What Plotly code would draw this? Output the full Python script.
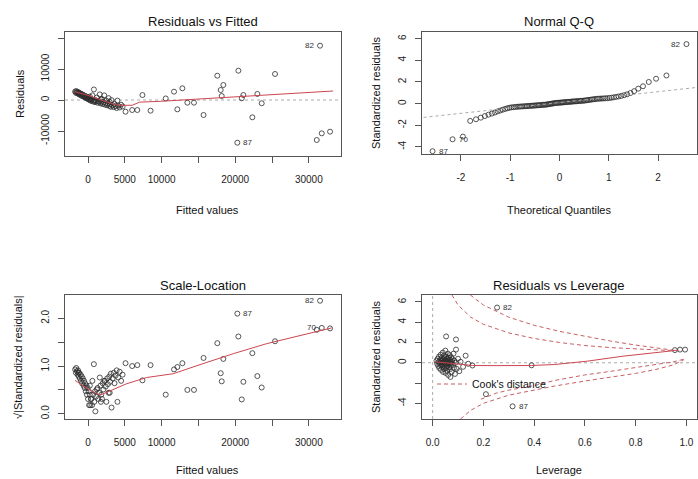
import plotly.graph_objects as go

W, H = 698, 479
FONT = "Liberation Sans, Arial, sans-serif"
PT_COL = "rgba(45,45,45,0.8)"
RED = "rgb(205,70,80)"
COOK = "rgb(200,95,100)"
GRAY = "rgb(170,170,170)"

# ---------------- Residuals vs Fitted / Scale-Location (shared fitted values) -------------
fitted = [-1750, -1650, -1600, -1500, -1400, -1350, -1300, -1250, -1200, -1100, -1000, -950,
          -850, -800, -700, -600, -550, -450, -400, -300, -200, -150, -50, 0, 100, 150, 250,
          250, 300, 400, 450, 550, 600, 700, 800, 850, 950, 1000, 1100, 1200, 1300, 1400, 1500,
          1600, 1700, 1750, 1800, 1900, 2000, 2100, 2200, 2300, 2400, 2500, 2600, 2700, 2800,
          2900, 2950, 3000, 3100, 3200, 3350, 3500, 3600, 3750, 3900, 4000, 4100, 4300, 4500,
          4700, 5100, 6000, 6700, 7400, 8500, 10560, 11690, 12140, 12820, 13500, 14400, 15700,
          17570, 18030, 18390, 18170, 20430, 20290, 20890, 21110, 22330, 23010, 23600, 25410,
          31530, 31080, 31760, 32890]
residuals = [2700, 2300, 2900, 2500, 2100, 2600, 2300, 1900, 2300, 1700, 2100, 1500,
             1900, 1300, 1700, 1100, 1500, 900, 1300, 700, 1100, 500, 900, 300, 700, 100, 500,
             1100, -100, 300, -300, 100, 1500, -500, 3400, -200, -700, 0, -400, 800, -900, -300,
             -600, 1800, -1100, 200, -500, 300, -1300, -800, 1500, -1500, -1000, -200, -1700,
             -1200, 600, -1900, -600, -1400, -2200, -50, -1700, -2300, -1300, -2000, -2600, -200,
             -1800, -2400, -1500, -2100, -3770, -3230, -3230, 1600, -3440, 500, 2680, -3010, 3770,
             -870, -870, -4840, 7840, 3230, 4840, 1290, 9450, -13770, 550, 1610, -5580, 1940,
             -1060, 8390, 17520, -12900, -10750, -10220]
sqrt_std_resid = [0.93, 0.86, 0.96, 0.89, 0.82, 0.91, 0.86, 0.78, 0.86, 0.74, 0.82, 0.69,
                  0.78, 0.64, 0.74, 0.59, 0.69, 0.54, 0.64, 0.47, 0.59, 0.40, 0.54, 0.31, 0.47,
                  0.18, 0.40, 0.59, 0.18, 0.31, 0.31, 0.18, 0.69, 0.40, 1.04, 0.25, 0.47, 0.05,
                  0.36, 0.51, 0.54, 0.31, 0.44, 0.76, 0.59, 0.25, 0.40, 0.31, 0.64, 0.51, 0.69,
                  0.69, 0.57, 0.25, 0.74, 0.62, 0.44, 0.78, 0.44, 0.67, 0.84, 0.13, 0.74, 0.86,
                  0.64, 0.80, 0.91, 0.25, 0.76, 0.88, 0.69, 0.82, 1.06, 1.00, 1.02, 0.70, 1.02,
                  0.40, 0.93, 0.98, 1.06, 0.50, 0.50, 1.17, 1.48, 0.85, 1.15, 0.68, 1.62, 2.10,
                  0.30, 0.67, 1.27, 0.79, 0.55, 1.52, 2.37, 1.76, 1.80, 1.79]

fit_lowess_x = [-1770, 0, 2000, 4000, 6000, 7000, 10000, 15000, 20000, 25000, 33300]
fit_lowess_y = [2680, 1500, -200, -1700, -1700, -700, -400, 300, 1000, 1900, 2900]
sl_lowess_x = [-1770, 0, 1630, 3000, 5260, 7980, 11590, 15220, 19750, 24280, 28810, 33120]
sl_lowess_y = [0.70, 0.52, 0.39, 0.48, 0.63, 0.76, 0.84, 1.03, 1.26, 1.47, 1.64, 1.80]

# ---------------- Normal Q-Q ----------------
qq_theoretical = [-2.576, -2.170, -1.960, -1.812, -1.695, -1.598, -1.514, -1.440, -1.372, -1.311,
                  -1.254, -1.200, -1.150, -1.103, -1.058, -1.015, -0.974, -0.935, -0.896, -0.860,
                  -0.824, -0.789, -0.755, -0.722, -0.690, -0.659, -0.628, -0.598, -0.568, -0.539,
                  -0.510, -0.482, -0.454, -0.426, -0.399, -0.372, -0.345, -0.319, -0.292, -0.266,
                  -0.240, -0.215, -0.189, -0.164, -0.138, -0.113, -0.088, -0.063, -0.038, -0.013,
                  0.013, 0.038, 0.063, 0.088, 0.113, 0.138, 0.164, 0.189, 0.215, 0.240,
                  0.266, 0.292, 0.319, 0.345, 0.372, 0.399, 0.426, 0.454, 0.482, 0.510,
                  0.539, 0.568, 0.598, 0.628, 0.659, 0.690, 0.722, 0.755, 0.789, 0.824,
                  0.860, 0.896, 0.935, 0.974, 1.015, 1.058, 1.103, 1.150, 1.200, 1.254,
                  1.311, 1.372, 1.440, 1.514, 1.598, 1.695, 1.812, 1.960, 2.170, 2.576]
qq_sample = [-4.40, -3.30, -3.05, -1.60, -1.45, -1.30, -1.15, -1.02, -0.92, -0.82,
             -0.72, -0.64, -0.56, -0.49, -0.43, -0.38, -0.35, -0.33, -0.31, -0.29,
             -0.28, -0.27, -0.26, -0.25, -0.24, -0.23, -0.22, -0.21, -0.20, -0.19,
             -0.18, -0.17, -0.16, -0.15, -0.14, -0.13, -0.12, -0.11, -0.10, -0.09,
             -0.07, -0.05, -0.03, -0.01, 0.01, 0.03, 0.05, 0.06, 0.07, 0.08,
             0.09, 0.10, 0.11, 0.12, 0.13, 0.14, 0.15, 0.16, 0.17, 0.18,
             0.19, 0.20, 0.21, 0.22, 0.23, 0.24, 0.25, 0.26, 0.27, 0.28,
             0.30, 0.32, 0.34, 0.36, 0.38, 0.40, 0.42, 0.44, 0.45, 0.46,
             0.47, 0.48, 0.49, 0.50, 0.52, 0.55, 0.58, 0.62, 0.66, 0.71,
             0.78, 0.86, 0.98, 1.15, 1.38, 1.60, 2.00, 2.30, 2.60, 5.50]
qq_line_x = [-3.0, 3.0]
qq_line_y = [-1.40, 1.60]

# ---------------- Residuals vs Leverage ----------------
leverage = [0.015, 0.018, 0.020, 0.022, 0.024, 0.025, 0.026, 0.028, 0.030, 0.030, 0.032, 0.033,
            0.034, 0.035, 0.036, 0.037, 0.038, 0.039, 0.040, 0.040, 0.041, 0.042, 0.043, 0.044,
            0.045, 0.045, 0.046, 0.047, 0.048, 0.049, 0.050, 0.050, 0.051, 0.052, 0.053, 0.053,
            0.054, 0.055, 0.056, 0.057, 0.058, 0.059, 0.060, 0.060, 0.061, 0.062, 0.063, 0.064,
            0.065, 0.066, 0.067, 0.068, 0.069, 0.070, 0.070, 0.071, 0.072, 0.073, 0.075, 0.076,
            0.078, 0.080, 0.082, 0.084, 0.086, 0.088, 0.090, 0.092, 0.092, 0.095, 0.100, 0.105,
            0.110, 0.120, 0.130, 0.140, 0.157, 0.210, 0.254, 0.315, 0.390, 0.955, 0.975, 0.995]
lev_std_resid = [0.20, -0.10, 0.40, -0.30, 0.10, 0.60, -0.50, 0.00, 0.30, -0.20, 0.80, -0.70,
                 0.15, -0.05, 0.50, -0.40, 0.25, -0.15, 1.00, 0.05, -0.90, 0.35, -0.25, 0.10,
                 0.70, -0.60, 0.00, 0.45, -0.35, 0.20, -0.10, 1.20, -1.00, 0.30, -0.20, 2.60,
                 0.60, -0.50, 0.10, -0.80, 0.40, -0.30, 0.00, 0.90, -1.20, 0.20, -0.15, 0.50,
                 -0.45, 0.05, 0.75, -0.65, 0.30, -0.05, -1.40, 0.15, -0.30, 0.55, -0.90, 0.10,
                 0.35, -0.20, 0.90, -0.50, 0.20, -1.10, 0.00, 2.30, 1.30, -0.60, 0.40, -0.83,
                 0.10, -0.40, 0.70, -0.10, -0.27, -3.10, 5.45, -4.30, -0.25, 1.25, 1.30, 1.30]
lev_lowess_x = [0.01, 0.05, 0.10, 0.157, 0.25, 0.39, 0.48, 0.61, 0.75, 0.88, 0.97]
lev_lowess_y = [0.10, 0.00, -0.15, -0.27, -0.28, -0.27, -0.17, 0.16, 0.65, 1.00, 1.25]

cook1_up_h = [0.148, 0.20, 0.30, 0.40, 0.50, 0.60, 0.70, 0.80, 0.90, 0.96]
cook1_up_r = [6.70, 5.70, 4.50, 3.70, 3.10, 2.60, 2.15, 1.75, 1.40, 1.20]
cook05_up_h = [0.076, 0.10, 0.15, 0.20, 0.30, 0.40, 0.50, 0.60, 0.70, 0.80, 0.90, 0.96]
cook05_up_r = [6.70, 5.70, 4.50, 3.80, 2.95, 2.40, 2.00, 1.70, 1.50, 1.35, 1.25, 1.20]
cook1_lo_h = [0.11, 0.15, 0.20, 0.30, 0.40, 0.48, 0.60, 0.70, 0.80, 0.88, 0.95, 0.99]
cook1_lo_r = [-5.55, -4.70, -4.00, -3.20, -2.70, -2.30, -1.80, -1.45, -1.05, -0.66, -0.20, 0.30]
cook05_lo_h = [0.19, 0.25, 0.30, 0.40, 0.48, 0.60, 0.70, 0.80, 0.88, 0.95, 0.99]
cook05_lo_r = [-3.60, -3.00, -2.70, -2.25, -1.75, -1.20, -0.85, -0.50, -0.17, 0.10, 0.35]

# ---------------- axis ticks ----------------
fit_ticks = [0, 5000, 10000, 15000, 20000, 25000, 30000]
fit_ticktext = ["0", "5000", "10000", "", "20000", "", "30000"]
res_ticks = [-10000, 0, 10000, 20000]
res_ticktext = ["-10000", "0", "10000", ""]
qq_xticks = [-2, -1, 0, 1, 2]
qq_yticks = [-4, -2, 0, 2, 4, 6]
sl_ticks = [0.0, 0.5, 1.0, 1.5, 2.0]
sl_ticktext = ["0.0", "", "1.0", "", "2.0"]
lev_xticks = [0.0, 0.2, 0.4, 0.6, 0.8, 1.0]
lev_xticktext = ["0.0", "0.2", "0.4", "0.6", "0.8", "1.0"]
lev_yticks = [-4, -2, 0, 2, 4, 6]
lev_yticktext = ["-4", "", "0", "2", "4", "6"]


def px(x):
    return x / W


def py(y):
    return 1 - y / H


fig = go.Figure()


def pts(x, y, xa, ya):
    fig.add_trace(go.Scatter(x=x, y=y, mode="markers", xaxis=xa, yaxis=ya, showlegend=False,
                             marker=dict(symbol="circle-open", size=5, color=PT_COL,
                                         line=dict(width=1)), hoverinfo="skip"))


def line(x, y, xa, ya, color, dash="solid", width=1, name=None, show=False):
    fig.add_trace(go.Scatter(x=x, y=y, mode="lines", xaxis=xa, yaxis=ya, showlegend=show,
                             name=name, legendgroup="cook",
                             line=dict(color=color, width=width, dash=dash), hoverinfo="skip"))


# Panel 1
pts(fitted, residuals, "x", "y")
line(fit_lowess_x, fit_lowess_y, "x", "y", RED)
# Panel 2
pts(qq_theoretical, qq_sample, "x2", "y2")
line(qq_line_x, qq_line_y, "x2", "y2", GRAY, dash="dot")
# Panel 3
pts(fitted, sqrt_std_resid, "x3", "y3")
line(sl_lowess_x, sl_lowess_y, "x3", "y3", RED)
# Panel 4
pts(leverage, lev_std_resid, "x4", "y4")
line(lev_lowess_x, lev_lowess_y, "x4", "y4", RED)
line(cook1_up_h, cook1_up_r, "x4", "y4", COOK, dash="4px,3px", name="Cook's distance", show=True)
line(cook05_up_h, cook05_up_r, "x4", "y4", COOK, dash="4px,3px")
line(cook1_lo_h, cook1_lo_r, "x4", "y4", COOK, dash="4px,3px")
line(cook05_lo_h, cook05_lo_r, "x4", "y4", COOK, dash="4px,3px")


def axis(domain, rng, tickvals, ticktext, anchor, vertical=False):
    d = dict(domain=domain, range=rng, tickvals=tickvals, ticktext=ticktext, anchor=anchor,
             showline=True, mirror=True, linecolor="#555", linewidth=1,
             ticks="outside", ticklen=6, tickcolor="#555", tickwidth=1,
             showgrid=False, zeroline=False,
             tickfont=dict(family=FONT, size=10, color="#222"))
    if vertical:
        d["tickangle"] = -90
        d["ticklabelstandoff"] = 5
    else:
        d["ticklabelstandoff"] = 8
    return d


XL = [px(65), px(341)]
XR = [px(422), px(697)]
YT1 = [py(156), py(32)]
YT2 = [py(154), py(32)]
YB = [py(419), py(295)]

fig.update_layout(
    xaxis=axis(XL, [-3125, 34375], fit_ticks, fit_ticktext, "y"),
    yaxis=axis(YT1, [-18065, 21935], res_ticks, res_ticktext, "x", True),
    xaxis2=axis(XR, [-2.79, 2.79], qq_xticks, [str(v) for v in qq_xticks], "y2"),
    yaxis2=axis(YT2, [-4.66, 6.62], qq_yticks, [str(v) for v in qq_yticks], "x2", True),
    xaxis3=axis(XL, [-3125, 34375], fit_ticks, fit_ticktext, "y3"),
    yaxis3=axis(YB, [-0.11, 2.49], sl_ticks, sl_ticktext, "x3", True),
    xaxis4=axis(XR, [-0.042, 1.042], lev_xticks, lev_xticktext, "y4"),
    yaxis4=axis(YB, [-5.55, 6.69], lev_yticks, lev_yticktext, "x4", True),
)

# reference dotted lines (h = 0 in panel 1 and 4, v = 0 in panel 4)
ZERO = 0
for xr, yr in [("x", "y"), ("x4", "y4")]:
    fig.add_shape(type="line", xref=f"{xr} domain", yref=yr, x0=0, x1=1, y0=ZERO, y1=ZERO,
                  line=dict(color=GRAY, width=1, dash="dot"), layer="below")
fig.add_shape(type="line", xref="x4", yref="y4 domain", x0=ZERO, x1=ZERO, y0=0, y1=1,
              line=dict(color=GRAY, width=1, dash="dot"), layer="below")

ann = []


def text(x, y, s, size, angle=0, xanchor="center"):
    ann.append(dict(x=px(x), y=py(y), xref="paper", yref="paper", text=s, showarrow=False,
                    textangle=angle, xanchor=xanchor, yanchor="middle",
                    font=dict(family=FONT, size=size, color="#111")))


# panel titles
text(203, 22, "Residuals vs Fitted", 13)
text(559, 22, "Normal Q-Q", 13)
text(203, 285, "Scale-Location", 13)
text(559, 285, "Residuals vs Leverage", 13)
# axis titles
text(207, 210, "Fitted values", 11)
text(559, 210, "Theoretical Quantiles", 11)
text(207, 470, "Fitted values", 11)
text(559, 470, "Leverage", 11)
text(20, 94, "Residuals", 11, -90)
text(376, 93, "Standardized residuals", 11, -90)
text(18, 357, "√|Standardized residuals|", 11, -90)
text(376, 357, "Standardized residuals", 11, -90)


def idlabel(x, y, s, xa, ya, side):
    ann.append(dict(x=x, y=y, xref=xa, yref=ya, text=s, showarrow=False,
                    xanchor="right" if side == "l" else "left",
                    xshift=-4 if side == "l" else 4, yanchor="middle",
                    font=dict(family=FONT, size=8, color="#333")))


idlabel(31530, 17520, "82", "x", "y", "l")
idlabel(20290, -13770, "87", "x", "y", "r")
idlabel(2.576, 5.50, "82", "x2", "y2", "l")
idlabel(-2.576, -4.40, "87", "x2", "y2", "r")
idlabel(-2.170, -3.30, "70", "x2", "y2", "r")
idlabel(31530, 2.37, "82", "x3", "y3", "l")
idlabel(20290, 2.10, "87", "x3", "y3", "r")
idlabel(31760, 1.80, "70", "x3", "y3", "l")
idlabel(0.254, 5.45, "82", "x4", "y4", "r")
idlabel(0.315, -4.30, "87", "x4", "y4", "r")

fig.update_layout(
    annotations=ann,
    width=W, height=H, autosize=False,
    margin=dict(l=0, r=0, t=0, b=0),
    paper_bgcolor="white", plot_bgcolor="white",
    showlegend=True,
    legend=dict(x=px(432), y=py(384), xanchor="left", yanchor="middle",
                bgcolor="rgba(0,0,0,0)", borderwidth=0,
                font=dict(family=FONT, size=10.5, color="#111"),
                itemwidth=30, tracegroupgap=0),
    font=dict(family=FONT),
)

fig.write_html("out.html")
